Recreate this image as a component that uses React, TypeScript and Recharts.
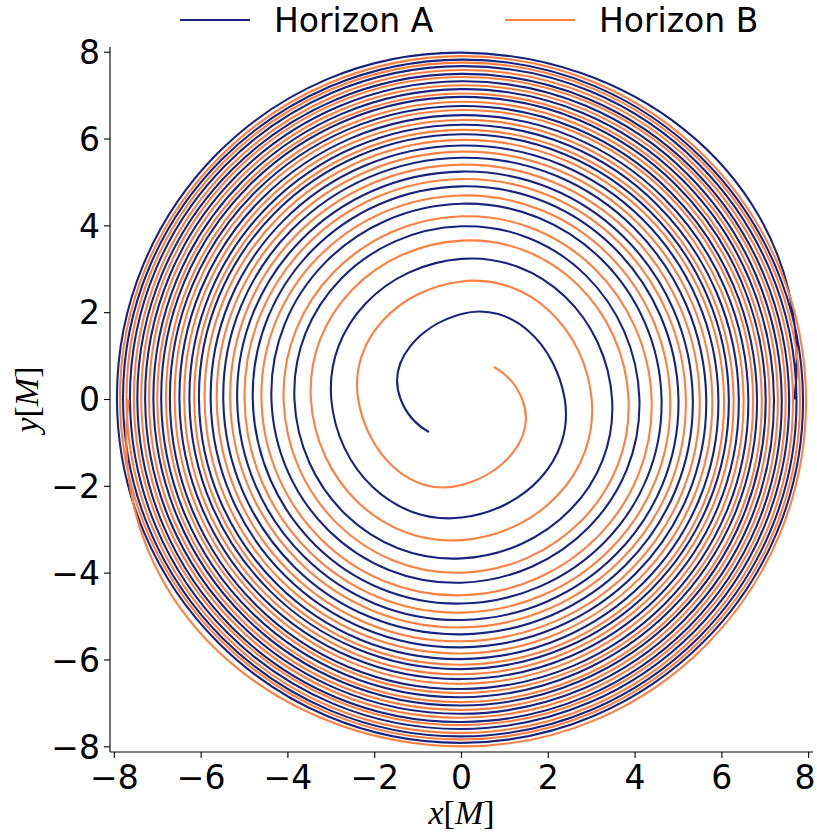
import React from 'react';
import { LineChart, Line, XAxis, YAxis, Legend } from 'recharts';

// ---- data (polar: degrees counter-clockwise, radius in M) ----
// first points of each orbit (start is nearly a straight vertical move)
const A_HEAD = [
  { deg: 0, r: 7.67 },
  { deg: 12, r: 7.86 },
];
const B_HEAD = [
  { deg: 180, r: 7.67 },
  { deg: 192, r: 7.86 },
];
// radius at every quarter turn afterwards (first entry at *_QUARTER_START_DEG)
const STEP_DEG = 90;
const A_QUARTER_START_DEG = 90;
const B_QUARTER_START_DEG = 270;
const A_RADII = [
  7.99, 7.94, 7.91, 7.87, 7.83, 7.80, 7.76, 7.72, 7.68,
  7.64, 7.59, 7.55, 7.50, 7.47, 7.43, 7.38, 7.33, 7.29, 7.24,
  7.20, 7.15, 7.10, 7.05, 7.01, 6.97, 6.92, 6.86, 6.81, 6.76,
  6.72, 6.67, 6.61, 6.55, 6.50, 6.44, 6.39, 6.33, 6.27, 6.21,
  6.16, 6.11, 6.05, 5.98, 5.92, 5.85, 5.78, 5.71, 5.64, 5.57,
  5.49, 5.41, 5.33, 5.25, 5.17, 5.08, 5.00, 4.91, 4.81, 4.70,
  4.61, 4.51, 4.38, 4.22, 4.10, 3.99, 3.85, 3.66, 3.47, 3.24,
  3.00, 2.72, 2.38, 1.97, 1.40,
];
const B_RADII = [
  7.99, 7.94, 7.91, 7.87, 7.83, 7.80, 7.76, 7.72, 7.68,
  7.64, 7.59, 7.55, 7.50, 7.47, 7.43, 7.38, 7.33, 7.29, 7.24,
  7.20, 7.15, 7.10, 7.05, 7.01, 6.97, 6.92, 6.86, 6.81, 6.76,
  6.72, 6.67, 6.61, 6.55, 6.50, 6.44, 6.39, 6.33, 6.27, 6.21,
  6.16, 6.11, 6.05, 5.98, 5.92, 5.85, 5.78, 5.71, 5.64, 5.57,
  5.49, 5.41, 5.33, 5.25, 5.17, 5.08, 5.00, 4.91, 4.81, 4.70,
  4.61, 4.51, 4.38, 4.22, 4.10, 3.99, 3.85, 3.66, 3.47, 3.24,
  3.00, 2.72, 2.38, 1.97, 1.40,
];
const A_END = { deg: 6705, r: 1.06 };
const B_END = { deg: 6885, r: 1.06 };

const SERIES_NAMES = ['Horizon A', 'Horizon B'];
const SERIES_COLORS = ['#17237f', '#ff7f3f'];
const X_TICKS = [-8, -6, -4, -2, 0, 2, 4, 6, 8];
const Y_TICKS = [-8, -6, -4, -2, 0, 2, 4, 6, 8];
const X_DOMAIN = [-8.1, 8.1];
const Y_DOMAIN = [-8.12, 8.12];

type Polar = { deg: number; r: number };
const polarToXY = (p: Polar) => {
  const a = (p.deg * Math.PI) / 180;
  return { x: p.r * Math.cos(a), y: p.r * Math.sin(a) };
};

function buildSeries(head: Polar[], startDeg: number, radii: number[], end: Polar) {
  const polar: Polar[] = [
    ...head,
    ...radii.map((r, i) => ({ deg: startDeg + i * STEP_DEG, r })),
    end,
  ];
  return polar.map(polarToXY);
}

const dataA = buildSeries(A_HEAD, A_QUARTER_START_DEG, A_RADII, A_END);
const dataB = buildSeries(B_HEAD, B_QUARTER_START_DEG, B_RADII, B_END);

// smooth interpolation through the points: each span is drawn as a near-circular arc
function spiralCurve(context: any) {
  let pts: number[][] = [];
  const unit = (dx: number, dy: number) => {
    const l = Math.hypot(dx, dy) || 1;
    return [dx / l, dy / l];
  };
  const reflect = (v: number[], c: number[]) => {
    const d = v[0] * c[0] + v[1] * c[1];
    return [2 * d * c[0] - v[0], 2 * d * c[1] - v[1]];
  };
  return {
    areaStart() {},
    areaEnd() {},
    lineStart() {
      pts = [];
    },
    point(x: number, y: number) {
      pts.push([+x, +y]);
    },
    lineEnd() {
      const n = pts.length;
      if (!n) return;
      context.moveTo(pts[0][0], pts[0][1]);
      if (n === 1) return;
      const u: number[][] = new Array(n);
      for (let i = 1; i < n - 1; i++) {
        const vin = [pts[i][0] - pts[i - 1][0], pts[i][1] - pts[i - 1][1]];
        const vout = [pts[i + 1][0] - pts[i][0], pts[i + 1][1] - pts[i][1]];
        const din = Math.hypot(vin[0], vin[1]) || 1;
        const dout = Math.hypot(vout[0], vout[1]) || 1;
        u[i] = unit(
          vin[0] * (dout / din) + vout[0] * (din / dout),
          vin[1] * (dout / din) + vout[1] * (din / dout)
        );
      }
      if (n === 2) {
        u[0] = u[1] = unit(pts[1][0] - pts[0][0], pts[1][1] - pts[0][1]);
      } else {
        u[0] = reflect(u[1], unit(pts[1][0] - pts[0][0], pts[1][1] - pts[0][1]));
        u[n - 1] = reflect(u[n - 2], unit(pts[n - 1][0] - pts[n - 2][0], pts[n - 1][1] - pts[n - 2][1]));
      }
      for (let i = 0; i < n - 1; i++) {
        const p = pts[i];
        const q = pts[i + 1];
        const chord = Math.hypot(q[0] - p[0], q[1] - p[1]);
        const c = unit(q[0] - p[0], q[1] - p[1]);
        const g0 = Math.acos(Math.max(-1, Math.min(1, u[i][0] * c[0] + u[i][1] * c[1])));
        const g1 = Math.acos(Math.max(-1, Math.min(1, u[i + 1][0] * c[0] + u[i + 1][1] * c[1])));
        const g = Math.min((g0 + g1) / 2, 1.3);
        const alpha = g < 1e-4 ? 1 / 3 : ((2 / 3) * Math.tan(g / 2)) / Math.sin(g);
        const d = chord * alpha;
        context.bezierCurveTo(
          p[0] + u[i][0] * d,
          p[1] + u[i][1] * d,
          q[0] - u[i + 1][0] * d,
          q[1] - u[i + 1][1] * d,
          q[0],
          q[1]
        );
      }
    },
  };
}

const fmt = (v: number) => (v < 0 ? `\u2212${Math.abs(v)}` : `${v}`);

const FONT = 'DejaVu Sans';
const tickStyle = { fontFamily: FONT, fontSize: 33, fill: '#000' };

// x tick label; keeps the right-most label inside the picture
const XTick = (props: any) => {
  const { x, y, payload } = props;
  const label = fmt(payload.value);
  const halfW = label.length * 33 * 0.3;
  const shift = Math.min(0, 815 - (x + halfW));
  return (
    <text x={x + shift} y={y} dy="0.71em" textAnchor="middle" fontFamily={FONT} fontSize={33} fill="#000">
      {label}
    </text>
  );
};

const XLabel = (props: any) => {
  const vb = props.viewBox || { x: 110, y: 752, width: 703 };
  return (
    <text x={vb.x + vb.width / 2} y={824} textAnchor="middle" fontFamily="Liberation Serif" fontSize={34} fill="#000">
      <tspan fontStyle="italic">x</tspan>
      <tspan>[</tspan>
      <tspan fontStyle="italic">M</tspan>
      <tspan>]</tspan>
    </text>
  );
};

const YLabel = (props: any) => {
  const vb = props.viewBox || { x: 0, y: 47, height: 705 };
  const cy = vb.y + vb.height / 2;
  return (
    <text
      x={38}
      y={cy}
      transform={`rotate(-90, 38, ${cy})`}
      textAnchor="middle"
      fontFamily="Liberation Serif"
      fontSize={34}
      fill="#000"
    >
      <tspan fontStyle="italic">y</tspan>
      <tspan>[</tspan>
      <tspan fontStyle="italic">M</tspan>
      <tspan>]</tspan>
    </text>
  );
};

const renderLegend = (props: any) => {
  const payload = props.payload || [];
  return (
    <svg width={817} height={45} style={{ display: 'block' }}>
      {payload.map((e: any, i: number) => {
        const x0 = 180 + i * 325;
        return (
          <g key={i}>
            <line x1={x0} x2={x0 + 70} y1={20} y2={20} stroke={e.color} strokeWidth={2.1} />
            <text x={x0 + 94} y={32} fontFamily={FONT} fontSize={33} fill="#000">
              {e.value}
            </text>
          </g>
        );
      })}
    </svg>
  );
};

export default function App() {
  return (
    <div style={{ position: 'absolute', left: 0, top: 0, width: 817, height: 833, background: '#fff' }}>
      <LineChart width={817} height={833} margin={{ top: 47, right: 4, bottom: 0, left: 0 }}>
        <XAxis
          type="number"
          dataKey="x"
          domain={X_DOMAIN}
          ticks={X_TICKS}
          allowDataOverflow
          tick={<XTick />}
          tickSize={6}
          tickMargin={8}
          height={81}
          axisLine={{ stroke: '#000', strokeWidth: 1.1 }}
          tickLine={{ stroke: '#000', strokeWidth: 1.1 }}
          label={<XLabel />}
        />
        <XAxis
          xAxisId="top"
          orientation="top"
          type="number"
          domain={X_DOMAIN}
          allowDataOverflow
          height={0}
          tick={false}
          tickLine={false}
          axisLine={{ stroke: '#000', strokeWidth: 1.1 }}
        />
        <YAxis
          type="number"
          dataKey="y"
          domain={Y_DOMAIN}
          ticks={Y_TICKS}
          allowDataOverflow
          tickFormatter={fmt}
          tick={tickStyle}
          tickSize={6}
          tickMargin={4}
          width={110}
          axisLine={{ stroke: '#000', strokeWidth: 1.1 }}
          tickLine={{ stroke: '#000', strokeWidth: 1.1 }}
          label={<YLabel />}
        />
        <YAxis
          yAxisId="right"
          orientation="right"
          type="number"
          domain={Y_DOMAIN}
          allowDataOverflow
          width={0}
          tick={false}
          tickLine={false}
          axisLine={{ stroke: '#000', strokeWidth: 1.1 }}
        />
        <Legend
          layout="horizontal"
          verticalAlign="middle"
          align="center"
          content={renderLegend}
          wrapperStyle={{ position: 'absolute', top: 0, left: 0, width: 817, height: 45 }}
        />
        <Line
          data={dataA}
          dataKey="y"
          name={SERIES_NAMES[0]}
          stroke={SERIES_COLORS[0]}
          strokeWidth={2.1}
          dot={false}
          activeDot={false}
          type={spiralCurve as any}
          isAnimationActive={false}
        />
        <Line
          data={dataB}
          dataKey="y"
          name={SERIES_NAMES[1]}
          stroke={SERIES_COLORS[1]}
          strokeWidth={2.1}
          dot={false}
          activeDot={false}
          type={spiralCurve as any}
          isAnimationActive={false}
        />
      </LineChart>
    </div>
  );
}
